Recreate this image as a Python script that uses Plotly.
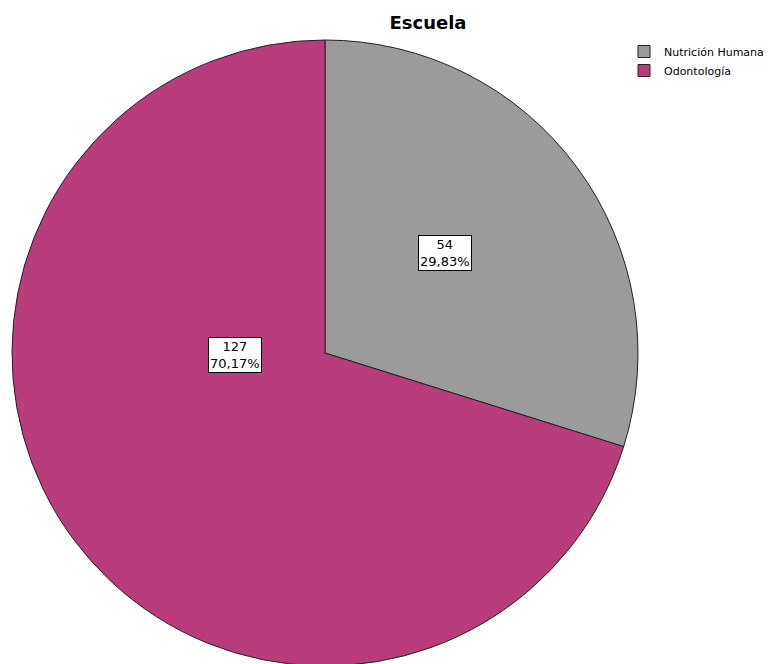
import plotly.graph_objects as go

categorias = ["Nutrición Humana", "Odontología"]
frecuencias = [54, 127]
colores = ["#9b9b9b", "#b93d7b"]

W, H = 776, 664
OFF = 8  # margen del body de la pagina html
FUENTE = "DejaVu Sans, Verdana, sans-serif"

total = sum(frecuencias)
textos = []
for v in frecuencias:
    pct = f"{v / total * 100:.2f}".replace(".", ",")
    textos.append(f"{v}<br>{pct}%")


def px_x(x):
    return (x - OFF) / W


def px_y(y):
    return 1 - (y - OFF) / H


fig = go.Figure()

fig.add_trace(go.Pie(
    labels=categorias,
    values=frecuencias,
    marker=dict(colors=colores, line=dict(color="#222222", width=1)),
    sort=False,
    direction="clockwise",
    rotation=0,
    textinfo="none",
    hoverinfo="label+value+percent",
    domain=dict(x=[px_x(12), px_x(638)], y=[px_y(666), px_y(40)]),
))

# posiciones de las etiquetas (px)
pos_etiquetas = [(445, 253), (208, 355)]
for (px, py), t in zip(pos_etiquetas, textos):
    fig.add_annotation(
        x=px_x(px), y=px_y(py), xref="paper", yref="paper",
        text=t, showarrow=False,
        font=dict(family=FUENTE, size=13, color="#000000"),
        bgcolor="#ffffff", bordercolor="#000000", borderwidth=1, borderpad=1,
        align="center",
    )

fig.update_layout(
    width=W,
    height=H,
    margin=dict(l=0, r=0, t=0, b=0, autoexpand=False),
    paper_bgcolor="#ffffff",
    plot_bgcolor="#ffffff",
    title=dict(
        text="<b>Escuela</b>",
        x=px_x(428), xanchor="center",
        y=px_y(23), yanchor="middle",
        font=dict(family=FUENTE, size=18, color="#000000"),
    ),
    showlegend=True,
    legend=dict(
        x=px_x(624), y=px_y(37), xanchor="left", yanchor="top",
        font=dict(family=FUENTE, size=11, color="#000000"),
        itemwidth=30,
        tracegroupgap=0,
        bgcolor="rgba(0,0,0,0)",
    ),
)

fig.write_html("out.html")
